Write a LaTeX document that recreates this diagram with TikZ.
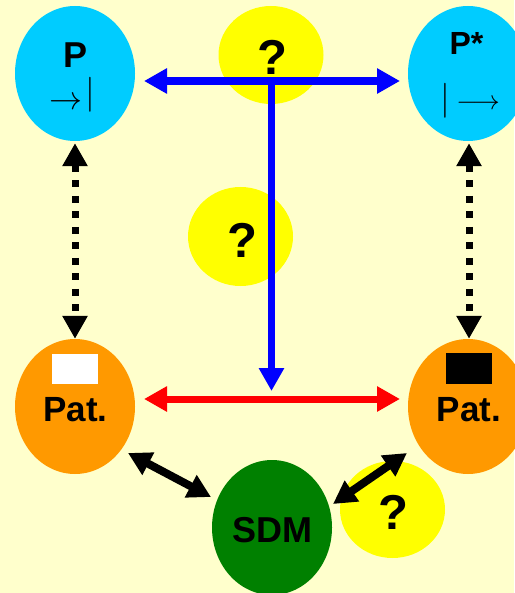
\documentclass[tikz,border=0pt]{standalone}
\usepackage{fontspec}
\setmainfont{Liberation Sans}
\usetikzlibrary{arrows.meta,shapes.geometric}

\definecolor{bgyellow}{HTML}{FFFFCC}
\definecolor{skyblue}{HTML}{00CCFF}
\definecolor{qyellow}{HTML}{FFFF00}
\definecolor{patorange}{HTML}{FF9900}
\definecolor{sdmgreen}{HTML}{008000}

\tikzset{
  blob/.style={ellipse, inner sep=0pt, draw=none, minimum width=120pt, minimum height=135pt},
  qblob/.style={ellipse, inner sep=0pt, draw=none, fill=qyellow, minimum width=105pt, minimum height=98pt},
  lbl/.style={inner sep=0pt, anchor=base, font=\bfseries\fontsize{35}{35}\selectfont},
  qlbl/.style={inner sep=0pt, anchor=base, font=\bfseries\fontsize{49}{49}\selectfont},
  sym/.style={inner sep=0pt, anchor=base},
  bluearr/.style={draw=blue, line width=7.5pt, -{Triangle[length=23pt, width=24pt]}},
  bluedbl/.style={draw=blue, line width=7.5pt, {Triangle[length=23pt, width=24pt]}-{Triangle[length=23pt, width=24pt]}},
  reddbl/.style={draw=red, line width=7pt, {Triangle[length=23pt, width=24pt]}-{Triangle[length=23pt, width=24pt]}},
  dotdbl/.style={draw=black, line width=7pt, dash pattern=on 7pt off 8.5pt,
    {Triangle[length=23pt, width=24pt]}-{Triangle[length=23pt, width=24pt]}},
  blkdbl/.style={draw=black, line width=8pt, {Triangle[length=23pt, width=24pt]}-{Triangle[length=23pt, width=24pt]}},
}

\begin{document}
\begin{tikzpicture}[x=1pt, y=-1pt]
  % canvas
  \fill[bgyellow] (0,0) rectangle (514,593);
  \useasboundingbox (0,0) rectangle (514,593);

  % question-mark blobs (behind the arrows)
  \node[qblob] (q1) at (271,55) {};
  \node[qblob, minimum width=105pt, minimum height=99pt] (q2) at (240.5,236.5) {};
  \node[qblob, minimum width=105pt, minimum height=97pt] (q3) at (392.5,509.5) {};

  % main ellipses
  \node[blob, fill=skyblue] (P) at (75,73.5) {};
  \node[blob, fill=skyblue] (Ps) at (468,73.5) {};
  \node[blob, fill=patorange] (PatL) at (75,406.5) {};
  \node[blob, fill=patorange] (PatR) at (468,406.5) {};
  \node[blob, fill=sdmgreen] (SDM) at (272,527.5) {};

  % small squares inside the Pat. ellipses
  \node[fill=white, minimum width=46pt, minimum height=30pt, inner sep=0pt] (boxL) at (75,369) {};
  \node[fill=black, minimum width=46pt, minimum height=31pt, inner sep=0pt] (boxR) at (469,368.5) {};

  % labels
  \node[lbl, font=\bfseries\fontsize{36}{36}\selectfont] (tP) at (76,68) {P};
  \node[lbl, font=\bfseries\fontsize{32}{32}\selectfont] (tPs) at (466.5,55) {P*};
  \node[sym] (arrL) at (65.5,109.25) {\scalebox{3.3}{$\rightarrow$}};
  \node[sym] (barL) at (90,103.25) {\scalebox{3.5}{$|$}};
  \node[sym] (barR) at (445,109.25) {\scalebox{3.5}{$|$}};
  \node[sym] (arrR) at (478,109.75) {\scalebox{2.7}{$\longrightarrow$}};
  \node[lbl] (tPatL) at (75.5,421) {Pat.};
  \node[lbl] (tPatR) at (469,421) {Pat.};
  \node[lbl, font=\bfseries\fontsize{36}{36}\selectfont] (tSDM) at (272,542) {SDM};
  \node[qlbl] (tq1) at (272.5,75) {?};
  \node[qlbl] (tq2) at (242,257) {?};
  \node[qlbl] (tq3) at (393,529) {?};

  % connector end points
  \coordinate (hL) at (144,81);
  \coordinate (hR) at (400,81);
  \coordinate (hJ) at (271.5,81);
  \coordinate (vEnd) at (271.5,391);
  \coordinate (rL) at (144,399);
  \coordinate (rR) at (400,399);
  \coordinate (dLa) at (128,453);
  \coordinate (dLb) at (211,497);
  \coordinate (dRa) at (333,504);
  \coordinate (dRb) at (407,453);

  % connectors
  \draw[bluedbl] (hL) -- (hR);
  \draw[bluearr] ([yshift=-3.75pt]hJ) -- (vEnd);
  \draw[reddbl] (rL) -- (rR);
  \draw[dotdbl, shorten <=2pt] (P.south) -- (PatL.north);
  \draw[dotdbl, shorten <=2pt] (Ps.south -| boxR) -- (PatR.north -| boxR);
  \draw[blkdbl] (dLa) -- (dLb);
  \draw[blkdbl] (dRa) -- (dRb);
\end{tikzpicture}
\end{document}
